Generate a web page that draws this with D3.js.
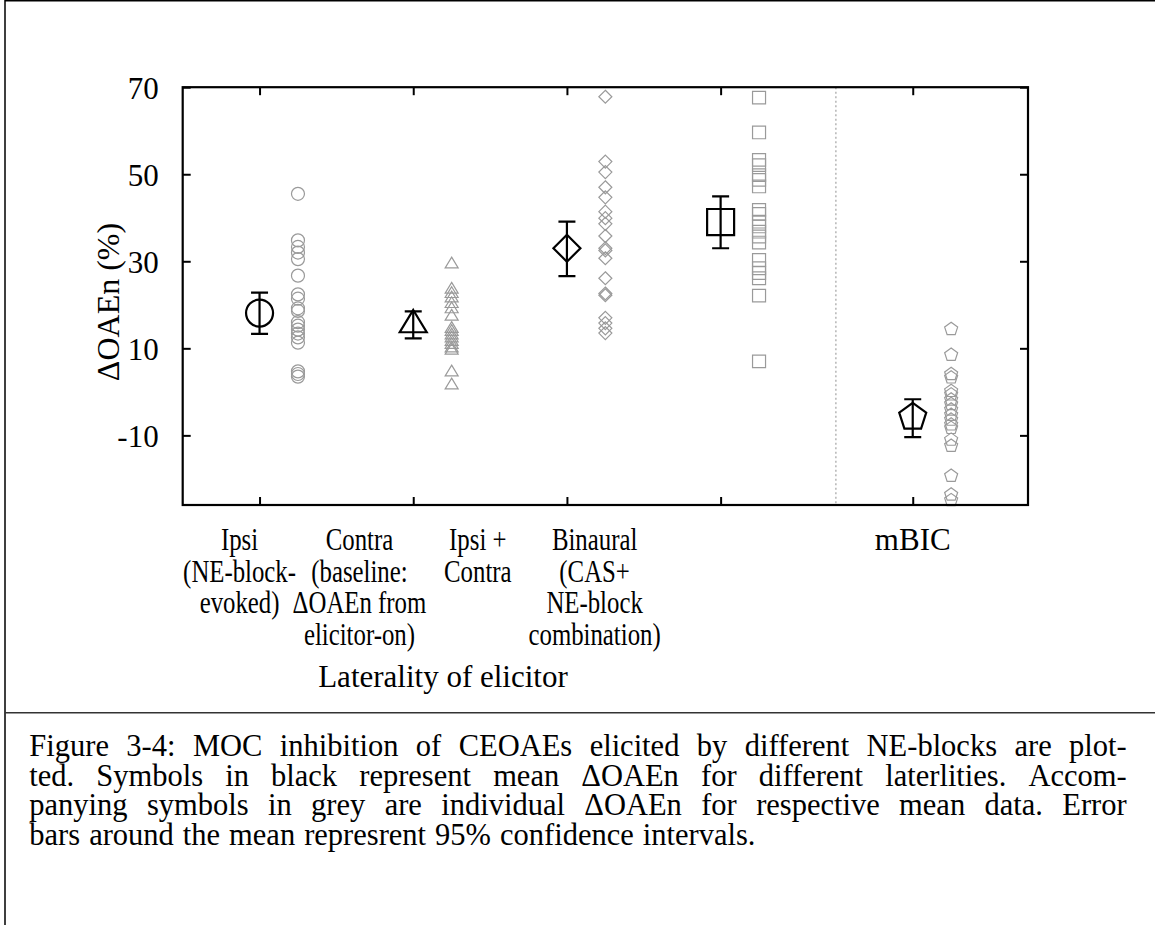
<!DOCTYPE html>
<html>
<head>
<meta charset="utf-8">
<script src="https://cdn.jsdelivr.net/npm/d3@7"></script>
<style>
body { margin: 0; background: #fff; }
text { font-family: "Liberation Serif", "Times New Roman", serif; fill: #000; }
.axis line { stroke: #000; stroke-width: 2; }
.axis path { display: none; }
</style>
</head>
<body>
<div id="chart"></div>
<script>
// category labels (one entry per line)
const categories = [
	["Ipsi", "(NE-block-", "evoked)"],
	["Contra", "(baseline:", "ΔOAEn from", "elicitor-on)"],
	["Ipsi +", "Contra"],
	["Binaural", "(CAS+", "NE-block", "combination)"],
	["mBIC"]
];
const groupX = [1, 2, 3, 4, 5.25];
const labelX = [0.87, 1.65, 2.42, 3.18, 5.25];
const shapes = ["circle", "triangle", "diamond", "square", "pentagon"];

// mean and 95% CI
const means  = [18.1, 15.4, 33.0, 39.0, -5.8];
const ciLow  = [13.3, 12.3, 26.6, 33.0, -10.4];
const ciHigh = [22.8, 18.5, 39.1, 44.9, -1.7];

// individual dOAEn
const ipsiVals = [45.5, 34.8, 33.3, 32.0, 30.5, 26.7, 22.4, 21.4, 19.2, 18.6, 16.0, 15.2, 14.3, 13.4, 12.5, 11.3, 4.7, 4.1, 3.5];
const contraVals = [29.3, 23.5, 22.5, 21.5, 20.2, 19.0, 17.3, 14.5, 13.8, 13.0, 12.3, 11.5, 10.8, 10.0, 9.5, 4.5, 1.5];
const bothVals = [67.8, 52.9, 50.5, 47.0, 44.7, 41.4, 39.9, 38.6, 35.8, 33.0, 32.5, 30.7, 26.1, 22.6, 22.2, 17.0, 15.8, 14.6, 13.5];
const binauralVals = [67.6, 59.6, 53.3, 52.1, 49.8, 48.7, 47.2, 41.8, 40.9, 39.1, 38.0, 36.8, 35.7, 34.3, 30.3, 28.4, 27.3, 26.1, 22.1, 7.0];
const mbicVals = [14.4, 8.5, 4.1, 3.3, 0.2, -0.6, -1.8, -2.8, -4.1, -5.3, -6.4, -7.5, -8.3, -11.0, -12.4, -19.3, -23.6, -24.9];
const individual = [ipsiVals, contraVals, bothVals, binauralVals, mbicVals];

const yTicks = [-10, 10, 30, 50, 70];
const separatorX = 4.75;
const pointOffset = 0.25;

const yLabel = "ΔOAEn (%)";
const xLabel = "Laterality of elicitor";
const captionLines = [
	"Figure 3-4: MOC inhibition of CEOAEs elicited by different NE-blocks are plot-",
	"ted. Symbols in black represent mean ΔOAEn for different laterlities. Accom-",
	"panying symbols in grey are individual ΔOAEn for respective mean data. Error",
	"bars around the mean represrent 95% confidence intervals."
];

let width = 1155;
let height = 925;
let pLeft = 182.7, pRight = 1028, pTop = 87.2, pBottom = 505;
let fontSize = 31;

let svg = d3.select("#chart").append("svg")
	.attr("width", width)
	.attr("height", height);

let x = d3.scaleLinear().domain([0.5, 6.0]).range([pLeft, pRight]);
let y = d3.scaleLinear().domain([-26, 70]).range([pBottom, pTop]);

//page frame
svg.append("path")
	.attr("d", `M 5,${height} L 5,0.75 L ${width},0.75`)
	.attr("fill", "none")
	.attr("stroke", "#000")
	.attr("stroke-width", 1.5);
svg.append("path")
	.attr("d", `M 5,712.7 L ${width},712.7`)
	.attr("stroke", "#333")
	.attr("stroke-width", 1.5);

//marker shapes, r = half width
function shapePath(type, r) {
	let p = d3.path();
	if (type == "circle") {
		p.moveTo(r, 0);
		p.arc(0, 0, r, 0, 2 * Math.PI);
	} else if (type == "triangle") {
		p.moveTo(0, -1.1 * r);
		p.lineTo(r, 0.55 * r);
		p.lineTo(-r, 0.55 * r);
		p.closePath();
	} else if (type == "diamond") {
		p.moveTo(0, -r);
		p.lineTo(r, 0);
		p.lineTo(0, r);
		p.lineTo(-r, 0);
		p.closePath();
	} else if (type == "square") {
		p.rect(-r, -r * 0.97, 2 * r, 2 * r * 0.97);
	} else if (type == "pentagon") {
		let R = r / Math.sin(2 * Math.PI / 5);
		for (let i = 0; i < 5; i++) {
			let a = -Math.PI / 2 + i * 2 * Math.PI / 5;
			if (i == 0) p.moveTo(R * Math.cos(a), R * Math.sin(a));
			else p.lineTo(R * Math.cos(a), R * Math.sin(a));
		}
		p.closePath();
	}
	return p.toString();
}

//dotted separator before mBIC
svg.append("path")
	.attr("d", "M " + x(separatorX) + "," + pTop + " L " + x(separatorX) + "," + pBottom)
	.attr("stroke", "#aaa")
	.attr("stroke-width", 1.3)
	.attr("stroke-dasharray", "2 2.5");

//individual points in grey
individual.forEach((vals, i) => {
	svg.append("g").selectAll("path")
		.data(vals)
		.enter()
		.append("path")
		.attr("d", shapePath(shapes[i], 6.5))
		.attr("transform", d => `translate(${x(groupX[i] + pointOffset)},${y(d)})`)
		.attr("fill", "none")
		.attr("stroke", "#9a9a9a")
		.attr("stroke-width", 1.2);
});

//error bars
let groups = groupX.map((gx, i) => ({x: gx, mean: means[i], lo: ciLow[i], hi: ciHigh[i], shape: shapes[i]}));
let eb = svg.append("g")
	.attr("stroke", "#000")
	.attr("stroke-width", 2.2)
	.attr("fill", "none");
eb.selectAll(".bar").data(groups).enter()
	.append("path")
	.attr("class", "bar")
	.attr("d", d => "M " + x(d.x) + "," + y(d.lo) + " L " + x(d.x) + "," + y(d.hi)
		+ " M " + (x(d.x) - 8.5) + "," + y(d.lo) + " L " + (x(d.x) + 8.5) + "," + y(d.lo)
		+ " M " + (x(d.x) - 8.5) + "," + y(d.hi) + " L " + (x(d.x) + 8.5) + "," + y(d.hi));

//mean markers in black
eb.selectAll(".mean").data(groups).enter()
	.append("path")
	.attr("class", "mean")
	.attr("d", d => shapePath(d.shape, 13.5))
	.attr("transform", d => `translate(${x(d.x)},${y(d.mean)})`);

//axes, ticks point inward, mirrored
svg.append("g")
	.attr("class", "axis")
	.attr("transform", `translate(${pLeft},0)`)
	.call(d3.axisLeft(y).tickValues(yTicks).tickSize(-8).tickPadding(24).tickFormat(d => String(d)))
	.attr("font-size", fontSize)
	.selectAll("text").attr("dy", "0.36em");

svg.append("g")
	.attr("class", "axis")
	.attr("transform", `translate(${pRight},0)`)
	.call(d3.axisRight(y).tickValues(yTicks).tickSize(-8).tickFormat(""));

svg.append("g")
	.attr("class", "axis")
	.attr("transform", `translate(0,${pBottom})`)
	.call(d3.axisBottom(x).tickValues(groupX).tickSize(-8).tickFormat(""));

svg.append("g")
	.attr("class", "axis")
	.attr("transform", `translate(0,${pTop})`)
	.call(d3.axisTop(x).tickValues(groupX).tickSize(-8).tickFormat(""));

//plot frame
svg.append("rect")
	.attr("x", pLeft)
	.attr("y", pTop)
	.attr("width", pRight - pLeft)
	.attr("height", pBottom - pTop)
	.attr("fill", "none")
	.attr("stroke", "#000")
	.attr("stroke-width", 2.2);

//category labels, the first four are set narrow in the original
let squeeze = [0.8, 0.8, 0.8, 0.8, 1];
let cat = svg.append("g")
	.attr("font-size", fontSize)
	.attr("text-anchor", "middle");
categories.forEach((lines, i) => {
	cat.append("text")
		.attr("transform", `translate(${x(labelX[i])},550) scale(${squeeze[i]},1)`)
		.selectAll("tspan")
		.data(lines)
		.enter()
		.append("tspan")
		.attr("x", 0)
		.attr("dy", (d, j) => j == 0 ? 0 : 31.7)
		.text(d => d);
});

svg.append("text")
	.attr("x", 443)
	.attr("y", 686.5)
	.attr("font-size", fontSize)
	.attr("text-anchor", "middle")
	.text(xLabel);

svg.append("text")
	.attr("transform", "translate(119,302) rotate(-90)")
	.attr("font-size", 32)
	.attr("text-anchor", "middle")
	.text(yLabel);

//caption, justified between margins
let capLeft = 29.3, capRight = 1126.7;
captionLines.forEach((line, i) => {
	let words = line.split(" ");
	let t = svg.append("text")
		.attr("y", 755.7 + i * 29.8)
		.attr("font-size", 30.5);
	let spans = t.selectAll("tspan").data(words).enter()
		.append("tspan")
		.text(d => d);
	let w = [];
	spans.each(function() { w.push(this.getComputedTextLength()); });
	let total = d3.sum(w);
	let gap = (i < captionLines.length - 1) ? (capRight - capLeft - total) / (words.length - 1) : 9;
	let pos = capLeft;
	spans.attr("x", (d, j) => {
		let p = pos;
		pos += w[j] + gap;
		return p;
	});
});
</script>
</body>
</html>
